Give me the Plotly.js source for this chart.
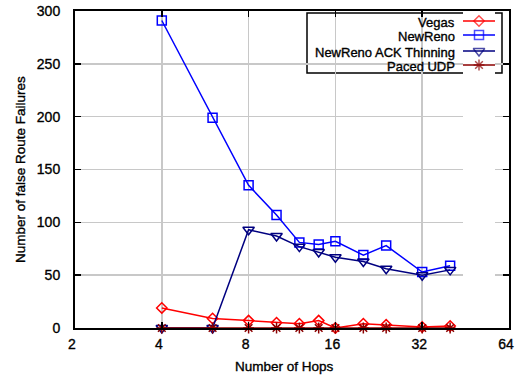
<!DOCTYPE html>
<html>
<head>
<meta charset="utf-8">
<script src="https://cdn.plot.ly/plotly-3.0.1.min.js"></script>
<style>
  html, body { margin: 0; padding: 0; background: #fff; }
  #chart { width: 515px; height: 378px; }
  /* slightly heavier strokes for all labels */
  #chart svg text { stroke: #000; stroke-width: 0.35px; }
</style>
</head>
<body>
<div id="chart"></div>
<script>
// Number of hops in the chain topology
const hops = [4, 6, 8, 10, 12, 14, 16, 20, 24, 32, 40];

// False route failures per protocol variant
const vegas    = [19, 9, 7, 5, 4, 7, 0, 4, 3, 1, 2];
const newReno  = [291, 199, 135, 107, 81, 79, 82, 69, 78, 53, 59];
const ackThin  = [0, 0, 93, 87, 77, 72, 67, 63, 56, 50, 55];
const pacedUdp = [0, 0, 0, 0, 0, 0, 0, 0, 0, 0, 0];

const seriesNames = ['Vegas', 'NewReno', 'NewReno ACK Thinning', 'Paced UDP'];
const xTicks = [2, 4, 8, 16, 32, 64];
const yTicks = [0, 50, 100, 150, 200, 250, 300];

const FONT = '"Liberation Sans", Arial, Helvetica, sans-serif';
const W = 515, H = 378;
const M = { l: 75, r: 6, t: 11, b: 50 };
const plotW = W - M.l - M.r, plotH = H - M.t - M.b;
const px2x = px => (px - M.l) / plotW;
const py2y = py => (H - M.b - py) / plotH;

const styles = [
  { color: '#ff0000', symbol: 'diamond-open', size: 8 },
  { color: '#0000ff', symbol: 'square-open', size: 9 },
  { color: '#000080', symbol: 'triangle-down-open', size: 10 },
  { color: '#8b0000', symbol: 'asterisk-open', size: 9 }
];
const values = [vegas, newReno, ackThin, pacedUdp];

const traces = values.map((ys, i) => ({
  type: 'scatter',
  mode: 'lines+markers',
  x: hops,
  y: ys,
  name: seriesNames[i],
  cliponaxis: false,
  showlegend: false,
  line: { color: styles[i].color, width: 1.5 },
  marker: { symbol: styles[i].symbol, size: styles[i].size, color: styles[i].color,
            line: { color: styles[i].color, width: 1.5 } }
}));

// Key samples: a short line with the marker in the middle, on an overlay axis
const keyRowsPx = [21, 35, 51, 65];
const keyX0 = px2x(463), keyX1 = px2x(495);
values.forEach((_, i) => {
  const yk = py2y(keyRowsPx[i]);
  traces.push({
    type: 'scatter',
    mode: 'lines+markers',
    x: [0, 0.5, 1],
    y: [yk, yk, yk],
    xaxis: 'x2', yaxis: 'y2',
    showlegend: false,
    hoverinfo: 'skip',
    cliponaxis: false,
    line: { color: styles[i].color, width: 1.5 },
    marker: { symbol: styles[i].symbol, size: [0, styles[i].size, 0], color: styles[i].color,
              line: { color: styles[i].color, width: 1.5 } }
  });
});

// key labels sit ~1.5px lower than their sample lines so the glyphs line up
const annotations = seriesNames.map((name, i) => ({
  xref: 'paper', yref: 'paper',
  x: px2x(457), y: py2y(keyRowsPx[i] + 1.5),
  xanchor: 'right', yanchor: 'middle',
  text: name, showarrow: false,
  font: { family: FONT, size: 13, color: '#000' }
}));
annotations.push({
  xref: 'paper', yref: 'paper',
  x: px2x(284), y: py2y(366),
  xanchor: 'center', yanchor: 'middle',
  text: 'Number of Hops', showarrow: false,
  font: { family: FONT, size: 13.5, color: '#000' }
});
annotations.push({
  xref: 'paper', yref: 'paper',
  x: px2x(20), y: py2y(170),
  xanchor: 'center', yanchor: 'middle',
  textangle: -90,
  text: 'Number of false Route Failures', showarrow: false,
  font: { family: FONT, size: 13.5, color: '#000' }
});

const layout = {
  width: W, height: H, autosize: false,
  margin: M,
  paper_bgcolor: '#fff', plot_bgcolor: '#fff',
  font: { family: FONT, size: 14, color: '#000' },
  showlegend: false,
  xaxis: {
    type: 'log',
    range: [Math.log10(2) - 1e-6, Math.log10(64) + 1e-6],
    tickvals: xTicks, ticktext: xTicks.map(String),
    ticks: 'inside', ticklen: 6, tickwidth: 1.5, tickcolor: '#000',
    showline: true, linecolor: '#000', linewidth: 2, mirror: 'ticks',
    showgrid: true, gridcolor: '#c8c8c8', gridwidth: 1.5,
    zeroline: false,
    ticklabelstandoff: 2,
    ticklabelshift: -3,
    tickfont: { family: FONT, size: 14, color: '#000' }
  },
  yaxis: {
    range: [0, 300],
    tickvals: yTicks,
    ticks: 'inside', ticklen: 6, tickwidth: 1.5, tickcolor: '#000',
    showline: true, linecolor: '#000', linewidth: 2, mirror: 'ticks',
    showgrid: true, gridcolor: '#c8c8c8', gridwidth: 1.5,
    zeroline: false,
    ticklabelstandoff: 10,
    tickfont: { family: FONT, size: 14, color: '#000' }
  },
  xaxis2: { domain: [keyX0, keyX1], range: [0, 1], visible: false, anchor: 'y2', fixedrange: true },
  yaxis2: { domain: [0, 1], range: [0, 1], visible: false, anchor: 'x2', overlaying: 'y', fixedrange: true },
  shapes: [{
    type: 'rect', xref: 'paper', yref: 'paper',
    x0: px2x(307), x1: px2x(502), y0: py2y(73), y1: py2y(13),
    line: { color: '#000', width: 1.5 }, fillcolor: '#fff', layer: 'between'
  }],
  annotations: annotations
};

Plotly.newPlot('chart', traces, layout, { displayModeBar: false, staticPlot: true });
</script>
</body>
</html>
